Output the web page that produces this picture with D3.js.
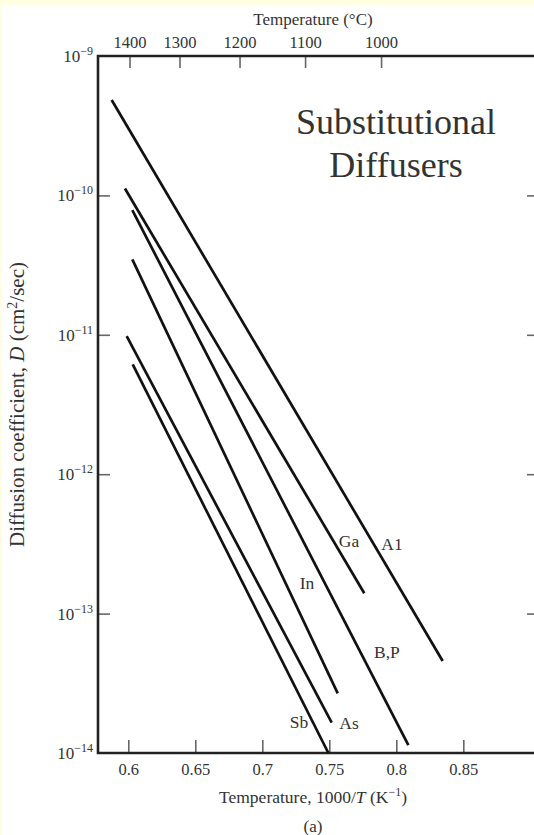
<!DOCTYPE html>
<html lang="en">
<head>
<meta charset="UTF-8">
<title>Substitutional Diffusers</title>
<script src="https://d3js.org/d3.v7.min.js"></script>
<style>
  body { margin: 0; background: #fffee0; }
  svg text { font-family: "Liberation Serif", "Times New Roman", serif; fill: #333; }
  .tick line { stroke: #666; stroke-width: 1.6; }
  .frame { stroke: #222; stroke-width: 2.6; fill: none; }
  .diff { stroke: #111; stroke-width: 2.7; fill: none; }
</style>
</head>
<body>
<div id="chart"></div>
<script>
// dopant lines: endpoints (1000/T in K^-1, D in cm^2/sec)
const dopants = ["A1", "Ga", "B,P", "In", "As", "Sb"];
const x1Vals = [0.5876, 0.5975, 0.6030, 0.6030, 0.5988, 0.6033];
const d1Vals = [4.83e-10, 1.12e-10, 7.85e-11, 3.48e-11, 9.8e-12, 6.14e-12];
const x2Vals = [0.8346, 0.7761, 0.8090, 0.7563, 0.7518, 0.7493];
const d2Vals = [4.57e-14, 1.40e-13, 1.14e-14, 2.68e-14, 1.65e-14, 1.0e-14];
// where each name is written
const labelX = [0.7968, 0.7647, 0.7930, 0.7334, 0.7647, 0.7274];
const labelD = [3.15e-13, 3.32e-13, 5.31e-14, 1.66e-13, 1.64e-14, 1.67e-14];

const xTicks = [0.6, 0.65, 0.7, 0.75, 0.8, 0.85];
const yTicks = [1e-9, 1e-10, 1e-11, 1e-12, 1e-13, 1e-14];
const tempC = [1400, 1300, 1200, 1100, 1000];
const tempPos = [0.6013, 0.6386, 0.6834, 0.7323, 0.7890]; // as printed on the top scale

const W = 534, H = 835;
const margin = { top: 56, right: -1, bottom: 82, left: 98 };

const svg = d3.select("#chart").append("svg")
  .attr("width", W).attr("height", H);

svg.append("rect").attr("x", 2).attr("y", 5)
  .attr("width", W - 2).attr("height", H - 5).attr("fill", "#fff");

const x = d3.scaleLinear().domain([0.5774, 0.9035])
  .range([margin.left, W - margin.right]);
const y = d3.scaleLog().domain([1e-14, 1e-9])
  .range([H - margin.bottom, margin.top]);

const x0 = x.range()[0], xR = x.range()[1];
const yB = y.range()[0], yT = y.range()[1];

function expLabel(sel, v) {
  const e = Math.round(Math.log10(v));
  sel.text("10");
  sel.append("tspan").attr("dy", -7).attr("font-size", 12).text("\u2212" + Math.abs(e));
}

// bottom axis
const gx = svg.append("g").attr("transform", `translate(0,${yB})`)
  .call(d3.axisBottom(x).tickValues(xTicks).tickSize(-13).tickPadding(10)
    .tickFormat(d3.format("")));
gx.select(".domain").remove();
gx.selectAll("text").attr("font-size", 16.5).attr("fill", "#444");

// left axis ticks
const gy = svg.append("g").attr("transform", `translate(${x0},0)`)
  .call(d3.axisLeft(y).tickValues(yTicks.slice(1, 5)).tickSize(-12).tickFormat(""));
gy.select(".domain").remove();

// right side ticks
const gr = svg.append("g").attr("transform", `translate(${xR},0)`)
  .call(d3.axisRight(y).tickValues(yTicks.slice(1, 5)).tickSize(-8).tickFormat(""));
gr.select(".domain").remove();

// y labels
svg.append("g").selectAll("text").data(yTicks).join("text")
  .attr("x", x0 - 5).attr("y", d => y(d) + 6)
  .attr("text-anchor", "end").attr("font-size", 17).attr("fill", "#444")
  .each(function (d) { expLabel(d3.select(this), d); });

// top temperature axis
const gt = svg.append("g");
gt.selectAll("line").data(tempPos).join("line")
  .attr("x1", d => x(d)).attr("x2", d => x(d))
  .attr("y1", yT).attr("y2", yT + 12)
  .attr("stroke", "#666").attr("stroke-width", 1.6);
gt.selectAll("text").data(tempC).join("text")
  .attr("x", (d, i) => x(tempPos[i])).attr("y", yT - 8)
  .attr("text-anchor", "middle").attr("font-size", 16.5).attr("fill", "#444")
  .text(d => d);

// frame: left, bottom, top
svg.append("path").attr("class", "frame")
  .attr("d", `M${xR},${yT}H${x0}V${yB}H${xR}`);

// diffusion lines
svg.append("g").selectAll("line").data(dopants).join("line")
  .attr("class", "diff")
  .attr("x1", (d, i) => x(x1Vals[i])).attr("y1", (d, i) => y(d1Vals[i]))
  .attr("x2", (d, i) => x(x2Vals[i])).attr("y2", (d, i) => y(d2Vals[i]));

svg.append("g").selectAll("text").data(dopants).join("text")
  .attr("x", (d, i) => x(labelX[i])).attr("y", (d, i) => y(labelD[i]) + 6)
  .attr("text-anchor", "middle").attr("font-size", 17.5).attr("fill", "#333")
  .text(d => d);

// annotation
svg.append("text").attr("x", 396).attr("y", 134)
  .attr("text-anchor", "middle").attr("font-size", 36).attr("fill", "#111")
  .selectAll("tspan").data(["Substitutional", "Diffusers"]).join("tspan")
  .attr("x", 396).attr("dy", (d, i) => i ? 43 : 0).text(d => d);

// axis titles
svg.append("text").attr("x", 313).attr("y", 25)
  .attr("text-anchor", "middle").attr("font-size", 17).attr("fill", "#444")
  .text("Temperature (\u00B0C)");

const bt = svg.append("text").attr("x", 313).attr("y", 803)
  .attr("text-anchor", "middle").attr("font-size", 17.5).attr("fill", "#444");
bt.append("tspan").text("Temperature, 1000/");
bt.append("tspan").attr("font-style", "italic").text("T");
bt.append("tspan").text(" (K");
bt.append("tspan").attr("dy", -7).attr("font-size", 12).text("\u22121");
bt.append("tspan").attr("dy", 7).text(")");

svg.append("text").attr("x", 313).attr("y", 832)
  .attr("text-anchor", "middle").attr("font-size", 17).attr("fill", "#444")
  .text("(a)");

const yl = svg.append("text")
  .attr("transform", `translate(24,${(yT + yB) / 2}) rotate(-90)`)
  .attr("text-anchor", "middle").attr("font-size", 21).attr("fill", "#444");
yl.append("tspan").text("Diffusion coefficient, ");
yl.append("tspan").attr("font-style", "italic").text("D");
yl.append("tspan").text(" (cm");
yl.append("tspan").attr("dy", -7).attr("font-size", 14).text("2");
yl.append("tspan").attr("dy", 7).text("/sec)");
</script>
</body>
</html>
